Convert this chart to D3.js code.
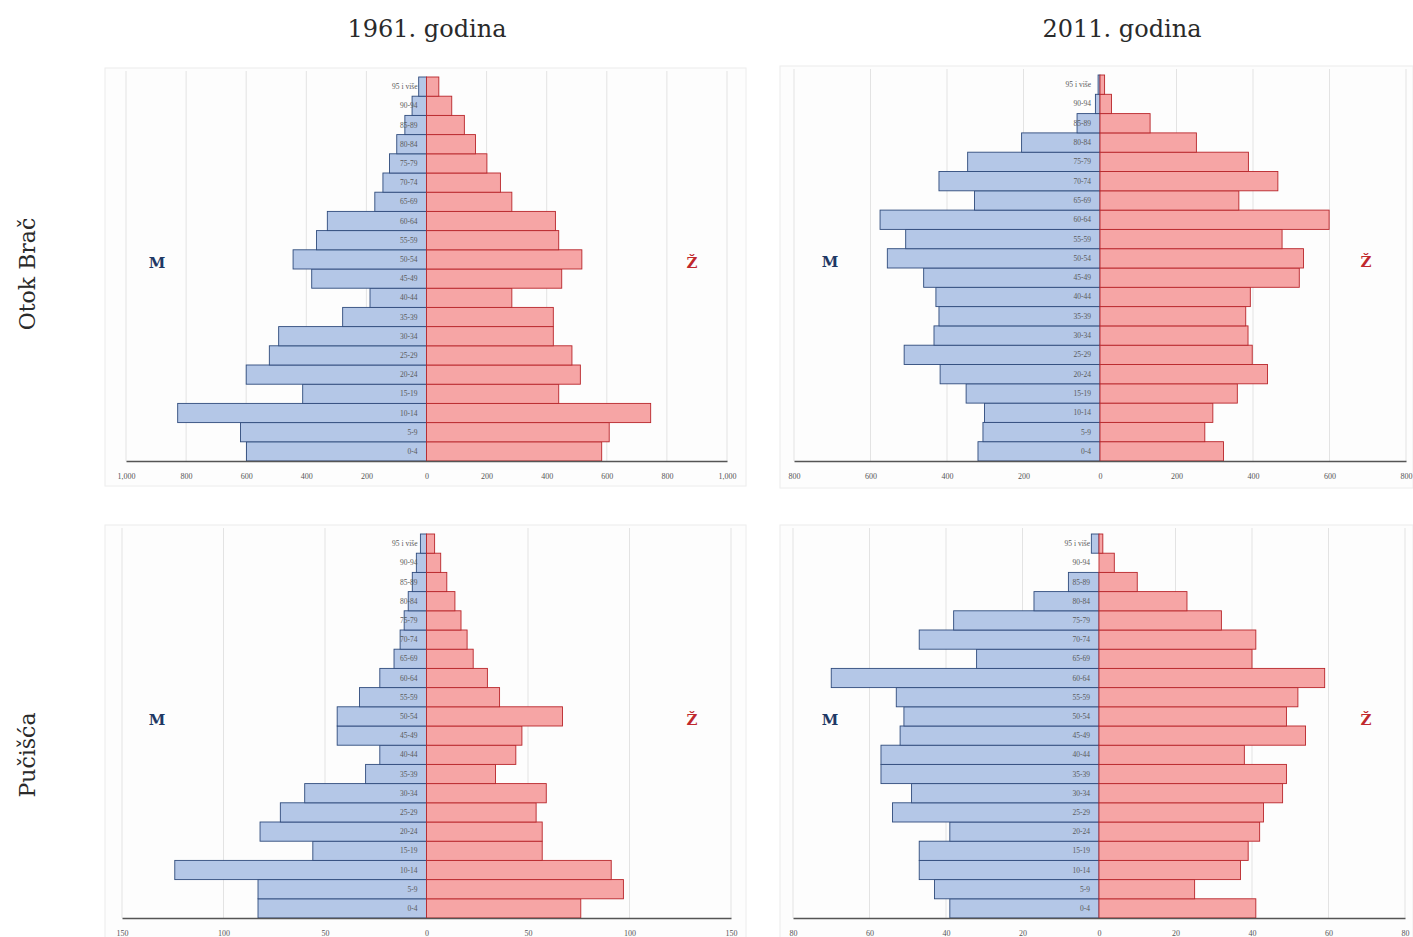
<!DOCTYPE html>
<html>
<head>
<meta charset="utf-8">
<script src="https://cdn.jsdelivr.net/npm/d3@7"></script>
<style>
  html, body { margin: 0; padding: 0; background: #ffffff; }
  svg { display: block; }
</style>
</head>
<body>
<svg id="chart" width="1413" height="937"></svg>
<script>
// ---------------- DATA ----------------
const ageGroups = ["0-4","5-9","10-14","15-19","20-24","25-29","30-34","35-39","40-44","45-49",
  "50-54","55-59","60-64","65-69","70-74","75-79","80-84","85-89","90-94","95 i više"];

const columnTitles = ["1961. godina", "2011. godina"];
const rowTitles = ["Otok Brač", "Pučišća"];
const maleLabel = "M";
const femaleLabel = "Ž";

// Otok Brač 1961 (ages 0-4 ... 95+)
const brac1961Male   = [599, 619, 828, 412, 600, 523, 492, 279, 188, 382, 444, 366, 330, 172, 145, 123, 99, 72, 48, 26];
const brac1961Female = [583, 608, 746, 440, 512, 484, 422, 422, 284, 450, 517, 440, 429, 284, 246, 201, 163, 126, 84, 41];

// Otok Brač 2011
const brac2011Male   = [319, 306, 302, 350, 418, 512, 434, 421, 429, 461, 556, 508, 575, 328, 421, 346, 205, 60, 12, 5];
const brac2011Female = [323, 274, 295, 359, 438, 398, 387, 381, 393, 521, 532, 476, 599, 363, 465, 388, 252, 131, 30, 12];

// Pučišća 1961
const pucisca1961Male   = [83, 83, 124, 56, 82, 72, 60, 30, 23, 44, 44, 33, 23, 16, 13, 11, 9, 7, 5, 3];
const pucisca1961Female = [76, 97, 91, 57, 57, 54, 59, 34, 44, 47, 67, 36, 30, 23, 20, 17, 14, 10, 7, 4];

// Pučišća 2011
const pucisca2011Male   = [39, 43, 47, 47, 39, 54, 49, 57, 57, 52, 51, 53, 70, 32, 47, 38, 17, 8, 0, 2];
const pucisca2011Female = [41, 25, 37, 39, 42, 43, 48, 49, 38, 54, 49, 52, 59, 40, 41, 32, 23, 10, 4, 1];

// Axis tick values per panel
const ticksBrac1961    = [-1000, -800, -600, -400, -200, 0, 200, 400, 600, 800, 1000];
const ticksBrac2011    = [-800, -600, -400, -200, 0, 200, 400, 600, 800];
const ticksPucisca1961 = [-150, -100, -50, 0, 50, 100, 150];
const ticksPucisca2011 = [-80, -60, -40, -20, 0, 20, 40, 60, 80];

// ---------------- LAYOUT / STYLE ----------------
const svg = d3.select("#chart");
const serif = "'DejaVu Serif', 'Liberation Serif', serif";
const smallSerif = "'Liberation Serif', 'DejaVu Serif', serif";

const maleFill = "#b4c7e7", maleStroke = "#2f4b7c";
const femaleFill = "#f6a5a5", femaleStroke = "#b8262b";

const panels = [
  { male: brac1961Male, female: brac1961Female, ticks: ticksBrac1961,
    box: [105, 68, 746, 486], xr: [126, 727], yr: [77, 461], labY: 268, tickY: 476, mX: 157, fX: 692 },
  { male: brac2011Male, female: brac2011Female, ticks: ticksBrac2011,
    box: [780, 66, 1413, 488], xr: [794, 1406], yr: [75, 461], labY: 267, tickY: 476, mX: 830, fX: 1366 },
  { male: pucisca1961Male, female: pucisca1961Female, ticks: ticksPucisca1961,
    box: [105, 525, 746, 940], xr: [122, 731], yr: [534, 918], labY: 725, tickY: 933, mX: 157, fX: 692 },
  { male: pucisca2011Male, female: pucisca2011Female, ticks: ticksPucisca2011,
    box: [780, 525, 1413, 940], xr: [793, 1405], yr: [534, 918], labY: 725, tickY: 933, mX: 830, fX: 1366 }
];

// Column titles
svg.selectAll("text.coltitle").data(columnTitles).enter().append("text")
  .attr("class", "coltitle")
  .attr("x", (d, i) => i === 0 ? 427 : 1122)
  .attr("y", 37)
  .attr("text-anchor", "middle")
  .attr("font-family", serif)
  .attr("font-size", 24)
  .attr("fill", "#2a2a2a")
  .text(d => d);

// Row titles
svg.selectAll("text.rowtitle").data(rowTitles).enter().append("text")
  .attr("class", "rowtitle")
  .attr("transform", (d, i) => `translate(35, ${i === 0 ? 274 : 755}) rotate(-90)`)
  .attr("text-anchor", "middle")
  .attr("font-family", serif)
  .attr("font-size", 22)
  .attr("fill", "#2a2a2a")
  .text(d => d);

panels.forEach(p => {
  const g = svg.append("g");
  const maxV = d3.max(p.ticks);

  // panel frame
  g.append("rect")
    .attr("x", p.box[0]).attr("y", p.box[1])
    .attr("width", p.box[2] - p.box[0]).attr("height", p.box[3] - p.box[1])
    .attr("fill", "#fdfdfd").attr("stroke", "#ececec").attr("stroke-width", 1);

  const x = d3.scaleLinear().domain([-maxV, maxV]).range(p.xr);
  const y = d3.scaleBand().domain(ageGroups.slice().reverse()).range(p.yr).padding(0);

  // grid lines
  g.selectAll("line.grid").data(p.ticks.filter(t => t !== 0)).enter().append("line")
    .attr("x1", d => x(d)).attr("x2", d => x(d))
    .attr("y1", p.yr[0] - 6).attr("y2", p.yr[1])
    .attr("stroke", "#e3e3e3").attr("stroke-width", 1);

  const rows = ageGroups.map((a, i) => ({ age: a, m: p.male[i], f: p.female[i] }));

  // male bars
  g.selectAll("rect.male").data(rows).enter().append("rect")
    .attr("x", d => x(-d.m)).attr("y", d => y(d.age))
    .attr("width", d => x(0) - x(-d.m)).attr("height", y.bandwidth())
    .attr("fill", maleFill).attr("stroke", maleStroke).attr("stroke-width", 0.9);

  // female bars
  g.selectAll("rect.female").data(rows).enter().append("rect")
    .attr("x", x(0)).attr("y", d => y(d.age))
    .attr("width", d => x(d.f) - x(0)).attr("height", y.bandwidth())
    .attr("fill", femaleFill).attr("stroke", femaleStroke).attr("stroke-width", 0.9);

  // age labels
  g.selectAll("text.age").data(rows).enter().append("text")
    .attr("x", x(0) - 9).attr("y", d => y(d.age) + y.bandwidth() / 2 + 2.5)
    .attr("text-anchor", "end")
    .attr("font-family", smallSerif).attr("font-size", 7.5)
    .attr("fill", "#5a5a5a")
    .text(d => d.age);

  // axis
  const axis = d3.axisBottom(x).tickValues(p.ticks).tickSize(0).tickPadding(0)
    .tickFormat(d => d3.format(",")(Math.abs(d)));
  const ax = g.append("g").attr("transform", `translate(0, ${p.yr[1]})`).call(axis);
  ax.select(".domain").attr("stroke", "#555").attr("stroke-width", 1.5);
  ax.selectAll("text")
    .attr("y", p.tickY - p.yr[1]).attr("dy", "0.32em")
    .attr("font-family", smallSerif).attr("font-size", 8).attr("fill", "#555");

  // M / Ž labels
  g.append("text")
    .attr("x", p.mX).attr("y", p.labY)
    .attr("text-anchor", "middle")
    .attr("font-family", serif).attr("font-weight", "bold").attr("font-size", 15)
    .attr("fill", "#1f3864").text(maleLabel);
  g.append("text")
    .attr("x", p.fX).attr("y", p.labY)
    .attr("text-anchor", "middle")
    .attr("font-family", serif).attr("font-weight", "bold").attr("font-size", 15)
    .attr("fill", "#c0282d").text(femaleLabel);
});
</script>
</body>
</html>
